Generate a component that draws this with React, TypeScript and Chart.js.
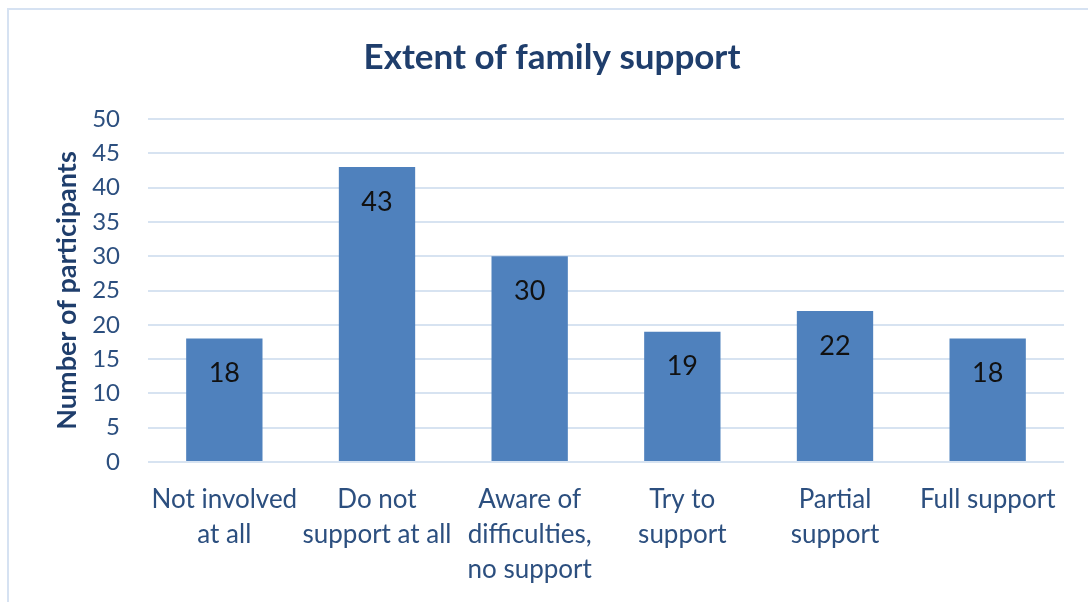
import React, { useEffect, useRef } from "react";
import { Chart, registerables } from "chart.js";

Chart.register(...registerables);

const categories: string[][] = [
  ["Not involved", "at all"],
  ["Do not", "support at all"],
  ["Aware of", "difficulties,", "no support"],
  ["Try to", "support"],
  ["Partial", "support"],
  ["Full support"],
];
const participants: number[] = [18, 43, 30, 19, 22, 18];
const yTicks = { min: 0, max: 50, step: 5 };
const titleText = "Extent of family support";
const yTitle = "Number of participants";

const FONT = "Lato, 'Open Sans', sans-serif";
const TEXT_BLUE = "#2c4f7f";
const TITLE_BLUE = "#1f3e6c";
const GRID = "#d7e3f1";

const valueLabels = {
  id: "valueLabels",
  afterDatasetsDraw(chart: any) {
    const ctx = chart.ctx;
    const meta = chart.getDatasetMeta(0);
    ctx.save();
    ctx.font = `27px ${FONT}`;
    ctx.fillStyle = "#111111";
    ctx.textAlign = "center";
    ctx.textBaseline = "middle";
    meta.data.forEach((bar: any, i: number) => {
      ctx.fillText(String(participants[i]), bar.x, bar.y + 35);
    });
    ctx.restore();
  },
};

export default function App() {
  const ref = useRef<HTMLCanvasElement>(null);
  useEffect(() => {
    if (!ref.current) return;
    const chart = new Chart(ref.current, {
      type: "bar",
      data: {
        labels: categories,
        datasets: [
          {
            data: participants,
            backgroundColor: "#4f81bd",
            borderWidth: 0,
            categoryPercentage: 1,
            barPercentage: 0.5,
          },
        ],
      },
      options: {
        animation: false,
        responsive: true,
        maintainAspectRatio: false,
        devicePixelRatio: 1,
        layout: { padding: { left: 40, right: 24, top: 0, bottom: 0 } },
        plugins: {
          legend: { display: false },
          tooltip: { enabled: false },
          title: {
            display: true,
            text: titleText,
            color: TITLE_BLUE,
            font: { family: FONT, size: 35, weight: "bold", lineHeight: 1.2 },
            padding: { top: 37, bottom: 40 },
          },
        },
        scales: {
          x: {
            grid: { display: false, drawTicks: false },
            border: { display: false },
            ticks: {
              color: TEXT_BLUE,
              font: { family: FONT, size: 26, lineHeight: "35px" } as any,
              padding: 20,
              maxRotation: 0,
              autoSkip: false,
            },
            afterFit: (s: any) => {
              s.height = 140;
            },
          },
          y: {
            min: yTicks.min,
            max: yTicks.max,
            grid: { color: GRID, lineWidth: 2, drawTicks: false },
            border: { display: false },
            ticks: {
              stepSize: yTicks.step,
              color: TEXT_BLUE,
              font: { family: FONT, size: 24 },
              padding: 28,
            },
            title: {
              display: true,
              text: yTitle,
              color: TITLE_BLUE,
              font: { family: FONT, size: 27, weight: "bold" },
              padding: { top: 11, bottom: 2 },
            },
            afterFit: (s: any) => {
              s.width = 108;
            },
          },
        },
      },
      plugins: [valueLabels],
    });
    return () => chart.destroy();
  }, []);

  return (
    <div
      style={{
        position: "fixed",
        left: 0,
        top: 0,
        width: 1088,
        height: 602,
        background: "#ffffff",
        overflow: "hidden",
      }}
    >
      <div
        style={{
          position: "absolute",
          left: 7,
          top: 8,
          width: 1100,
          height: 620,
          borderLeft: "2px solid #d6e2f2",
          borderTop: "2px solid #d6e2f2",
        }}
      />
      <canvas ref={ref} style={{ position: "absolute", left: 0, top: 0 }} />
    </div>
  );
}
